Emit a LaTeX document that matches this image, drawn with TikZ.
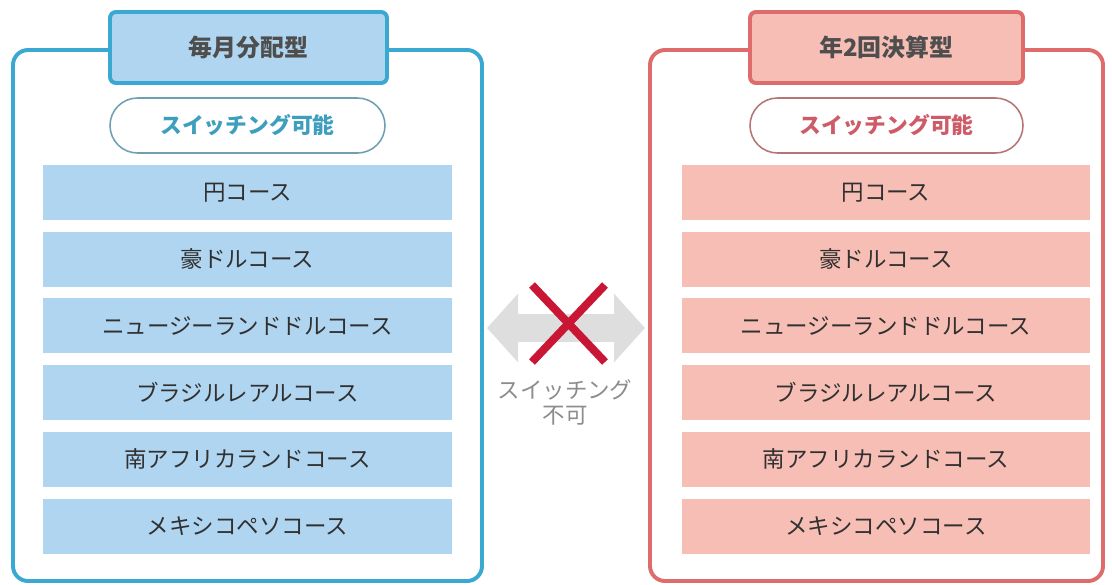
\documentclass[tikz,border=0pt]{standalone}
\usepackage{fontspec}
\setmainfont{Noto Sans CJK JP}
\usetikzlibrary{arrows.meta}

\definecolor{color1}{RGB}{255,255,255}
\definecolor{color2}{RGB}{58,168,208}
\definecolor{color3}{RGB}{176,213,240}
\definecolor{color4}{RGB}{62,158,190}
\definecolor{color5}{RGB}{110,160,178}
\definecolor{color6}{RGB}{222,108,108}
\definecolor{color7}{RGB}{246,190,180}
\definecolor{color8}{RGB}{206,92,102}
\definecolor{color9}{RGB}{182,116,116}
\definecolor{color10}{RGB}{78,78,78}
\definecolor{color11}{RGB}{48,48,48}
\definecolor{color12}{RGB}{222,222,222}
\definecolor{color13}{RGB}{200,22,52}
\definecolor{color14}{RGB}{140,140,140}

\begin{document}
\begin{tikzpicture}[
	outerbox/.style={fill=color1, draw, line width=2.8pt, rounded corners=0.375cm, minimum width=11.5cm, minimum height=13.275cm},
	headbox/.style={draw, line width=2.8pt, rounded corners=0.15cm, minimum height=1.775cm, text=color10, font=\fontsize{17}{20}\selectfont\bfseries},
	pillbox/.style={fill=color1, draw, line width=1.1pt, rounded corners=0.6875cm, minimum height=1.375cm, font=\fontsize{15.5}{18}\selectfont\bfseries},
	coursebox/.style={minimum height=1.375cm, text=color11, font=\fontsize{16}{19}\selectfont}
]
	\useasboundingbox (0cm,0cm) rectangle (27.8cm,-14.6cm);
	\node[outerbox, draw=color2, minimum width=11.725cm] (n1) at (6.1875cm ,-7.8875cm) {};
	\node[headbox, fill=color3, draw=color2, minimum width=6.925cm] (n2) at (6.2125cm ,-1.1875cm) {毎月分配型};
	\node[pillbox, draw=color5, text=color4, minimum width=6.875cm] (n3) at (6.1875cm ,-3.1375cm) {スイッチング可能};
	\node[coursebox, fill=color3, minimum width=10.225cm] (n4) at (6.1875cm ,-4.8125cm) {円コース};
	\node[coursebox, fill=color3, minimum width=10.225cm] (n5) at (6.1875cm ,-6.48cm) {豪ドルコース};
	\node[coursebox, fill=color3, minimum width=10.225cm] (n6) at (6.1875cm ,-8.1475cm) {ニュージーランドドルコース};
	\node[coursebox, fill=color3, minimum width=10.225cm] (n7) at (6.1875cm ,-9.815cm) {ブラジルレアルコース};
	\node[coursebox, fill=color3, minimum width=10.225cm] (n8) at (6.1875cm ,-11.4825cm) {南アフリカランドコース};
	\node[coursebox, fill=color3, minimum width=10.225cm] (n9) at (6.1875cm ,-13.15cm) {メキシコペソコース};
	% right column
	\node[outerbox, draw=color6, minimum width=11.325cm] (n10) at (21.9125cm ,-7.8875cm) {};
	\node[headbox, fill=color7, draw=color6, minimum width=6.825cm] (n11) at (22.1625cm ,-1.1875cm) {年2回決算型};
	\node[pillbox, draw=color9, text=color8, minimum width=6.825cm] (n12) at (22.1625cm ,-3.1375cm) {スイッチング可能};
	\node[coursebox, fill=color7, minimum width=10.2cm] (n13) at (22.15cm ,-4.8125cm) {円コース};
	\node[coursebox, fill=color7, minimum width=10.2cm] (n14) at (22.15cm ,-6.48cm) {豪ドルコース};
	\node[coursebox, fill=color7, minimum width=10.2cm] (n15) at (22.15cm ,-8.1475cm) {ニュージーランドドルコース};
	\node[coursebox, fill=color7, minimum width=10.2cm] (n16) at (22.15cm ,-9.815cm) {ブラジルレアルコース};
	\node[coursebox, fill=color7, minimum width=10.2cm] (n17) at (22.15cm ,-11.4825cm) {南アフリカランドコース};
	\node[coursebox, fill=color7, minimum width=10.2cm] (n18) at (22.15cm ,-13.15cm) {メキシコペソコース};
	% switching not possible
	\coordinate (c1) at (12.175cm ,-8.2cm);
	\coordinate (c2) at (16.125cm ,-8.2cm);
	\draw[color=color12, line width=0.7cm, {Triangle[length=0.775cm, width=1.675cm]}-{Triangle[length=0.775cm, width=1.675cm]}] (c1) -- (c2);
	\draw[color=color13, line width=0.2cm] (13.3cm ,-7.125cm) -- (15.125cm ,-9.05cm);
	\draw[color=color13, line width=0.2cm] (15.125cm ,-7.125cm) -- (13.3cm ,-9.05cm);
	\node[text=color14, align=center, font=\fontsize{16}{17.5}\selectfont] (n19) at (14.125cm ,-10.06cm) {スイッチング\\不可};
\end{tikzpicture}
\end{document}
